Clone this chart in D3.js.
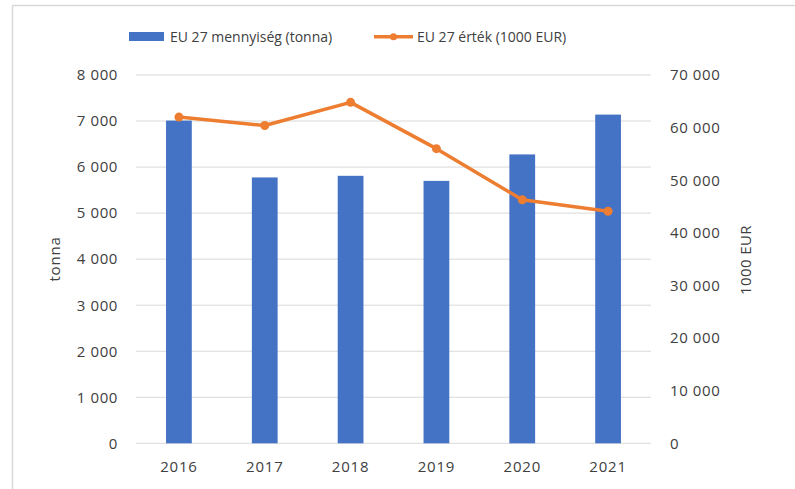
<!DOCTYPE html>
<html>
<head>
<meta charset="utf-8">
<script src="https://cdn.jsdelivr.net/npm/d3@7"></script>
<style>
  html, body { margin: 0; padding: 0; background: #fff; }
  svg text { font-family: "Open Sans", sans-serif; fill: #404040; }
</style>
</head>
<body>
<svg id="chart" width="795" height="489"></svg>
<script>
const years = ["2016", "2017", "2018", "2019", "2020", "2021"];
const quantity = [7010, 5775, 5810, 5700, 6275, 7140];
const value = [62000, 60400, 64800, 56000, 46300, 44100];
const leftTicks = [0, 1000, 2000, 3000, 4000, 5000, 6000, 7000, 8000];
const rightTicks = [0, 10000, 20000, 30000, 40000, 50000, 60000, 70000];
const seriesNames = ["EU 27 mennyiség (tonna)", "EU 27 érték (1000 EUR)"];
const axisTitles = ["tonna", "1000 EUR"];

const svg = d3.select("#chart");
const pLeft = 136, pRight = 651, pTop = 75, pBottom = 443.3;
const blue = "#4472c4", orange = "#ed7d31";
const fmt = v => d3.format(",")(v).replace(/,/g, " ");

// frame
svg.append("path").attr("d", "M12.5,489 L12.5,5.5 L795,5.5")
  .attr("fill", "none").attr("stroke", "#d9d9d9").attr("stroke-width", 1.5);

const x = d3.scaleBand().domain(years).range([pLeft, pRight]).paddingInner(0.7).paddingOuter(0.35);
const yL = d3.scaleLinear().domain([0, 8000]).range([pBottom, pTop]);
const yR = d3.scaleLinear().domain([0, 70000]).range([pBottom, pTop]);

// gridlines
svg.append("g").selectAll("line").data(leftTicks).join("line")
  .attr("x1", pLeft).attr("x2", pRight)
  .attr("y1", d => yL(d)).attr("y2", d => yL(d))
  .attr("stroke", "#d9d9d9").attr("stroke-width", 1);

// left axis
const gL = svg.append("g").attr("transform", `translate(${pLeft - 18},0)`)
  .call(d3.axisLeft(yL).tickValues(leftTicks).tickSize(0).tickPadding(0).tickFormat(fmt));
gL.select(".domain").remove();
gL.selectAll("text").attr("font-size", 15).style("letter-spacing", "0.6px").attr("fill", "#404040");

// right axis
const gR = svg.append("g").attr("transform", `translate(${670},0)`)
  .call(d3.axisRight(yR).tickValues(rightTicks).tickSize(0).tickPadding(0).tickFormat(fmt));
gR.select(".domain").remove();
gR.selectAll("text").attr("font-size", 15).style("letter-spacing", "0.6px").attr("fill", "#404040");

// x axis
const gX = svg.append("g").attr("transform", `translate(0,${pBottom + 18})`)
  .call(d3.axisBottom(x).tickSize(0).tickPadding(0));
gX.select(".domain").remove();
gX.selectAll("text").attr("font-size", 15).style("letter-spacing", "0.8px").attr("fill", "#404040");

// bars
svg.append("g").selectAll("rect").data(quantity).join("rect")
  .attr("x", (d, i) => x(years[i]))
  .attr("width", x.bandwidth())
  .attr("y", d => yL(d))
  .attr("height", d => pBottom - yL(d))
  .attr("fill", blue);

// line
const cx = i => x(years[i]) + x.bandwidth() / 2;
const line = d3.line().x((d, i) => cx(i)).y(d => yR(d));
svg.append("path").datum(value).attr("d", line)
  .attr("fill", "none").attr("stroke", orange).attr("stroke-width", 3.5).attr("stroke-linejoin", "round");
svg.append("g").selectAll("circle").data(value).join("circle")
  .attr("cx", (d, i) => cx(i)).attr("cy", d => yR(d)).attr("r", 4.5).attr("fill", orange);

// axis titles
svg.append("text").attr("transform", `translate(60,259) rotate(-90)`)
  .attr("text-anchor", "middle").attr("font-size", 15).style("letter-spacing", "0.8px").text(axisTitles[0]);
svg.append("text").attr("transform", `translate(751,260) rotate(-90)`)
  .attr("text-anchor", "middle").attr("font-size", 15).style("letter-spacing", "0.4px").text(axisTitles[1]);

// legend
const lg = svg.append("g");
lg.append("rect").attr("x", 129).attr("y", 32).attr("width", 35).attr("height", 9).attr("fill", blue);
lg.append("text").attr("x", 170).attr("y", 41.5).attr("font-size", 14).text(seriesNames[0]);
lg.append("line").attr("x1", 374).attr("x2", 413).attr("y1", 36.7).attr("y2", 36.7)
  .attr("stroke", orange).attr("stroke-width", 3.5);
lg.append("circle").attr("cx", 393.5).attr("cy", 36.7).attr("r", 3.5).attr("fill", orange);
lg.append("text").attr("x", 417).attr("y", 41.5).attr("font-size", 14).text(seriesNames[1]);
</script>
</body>
</html>
